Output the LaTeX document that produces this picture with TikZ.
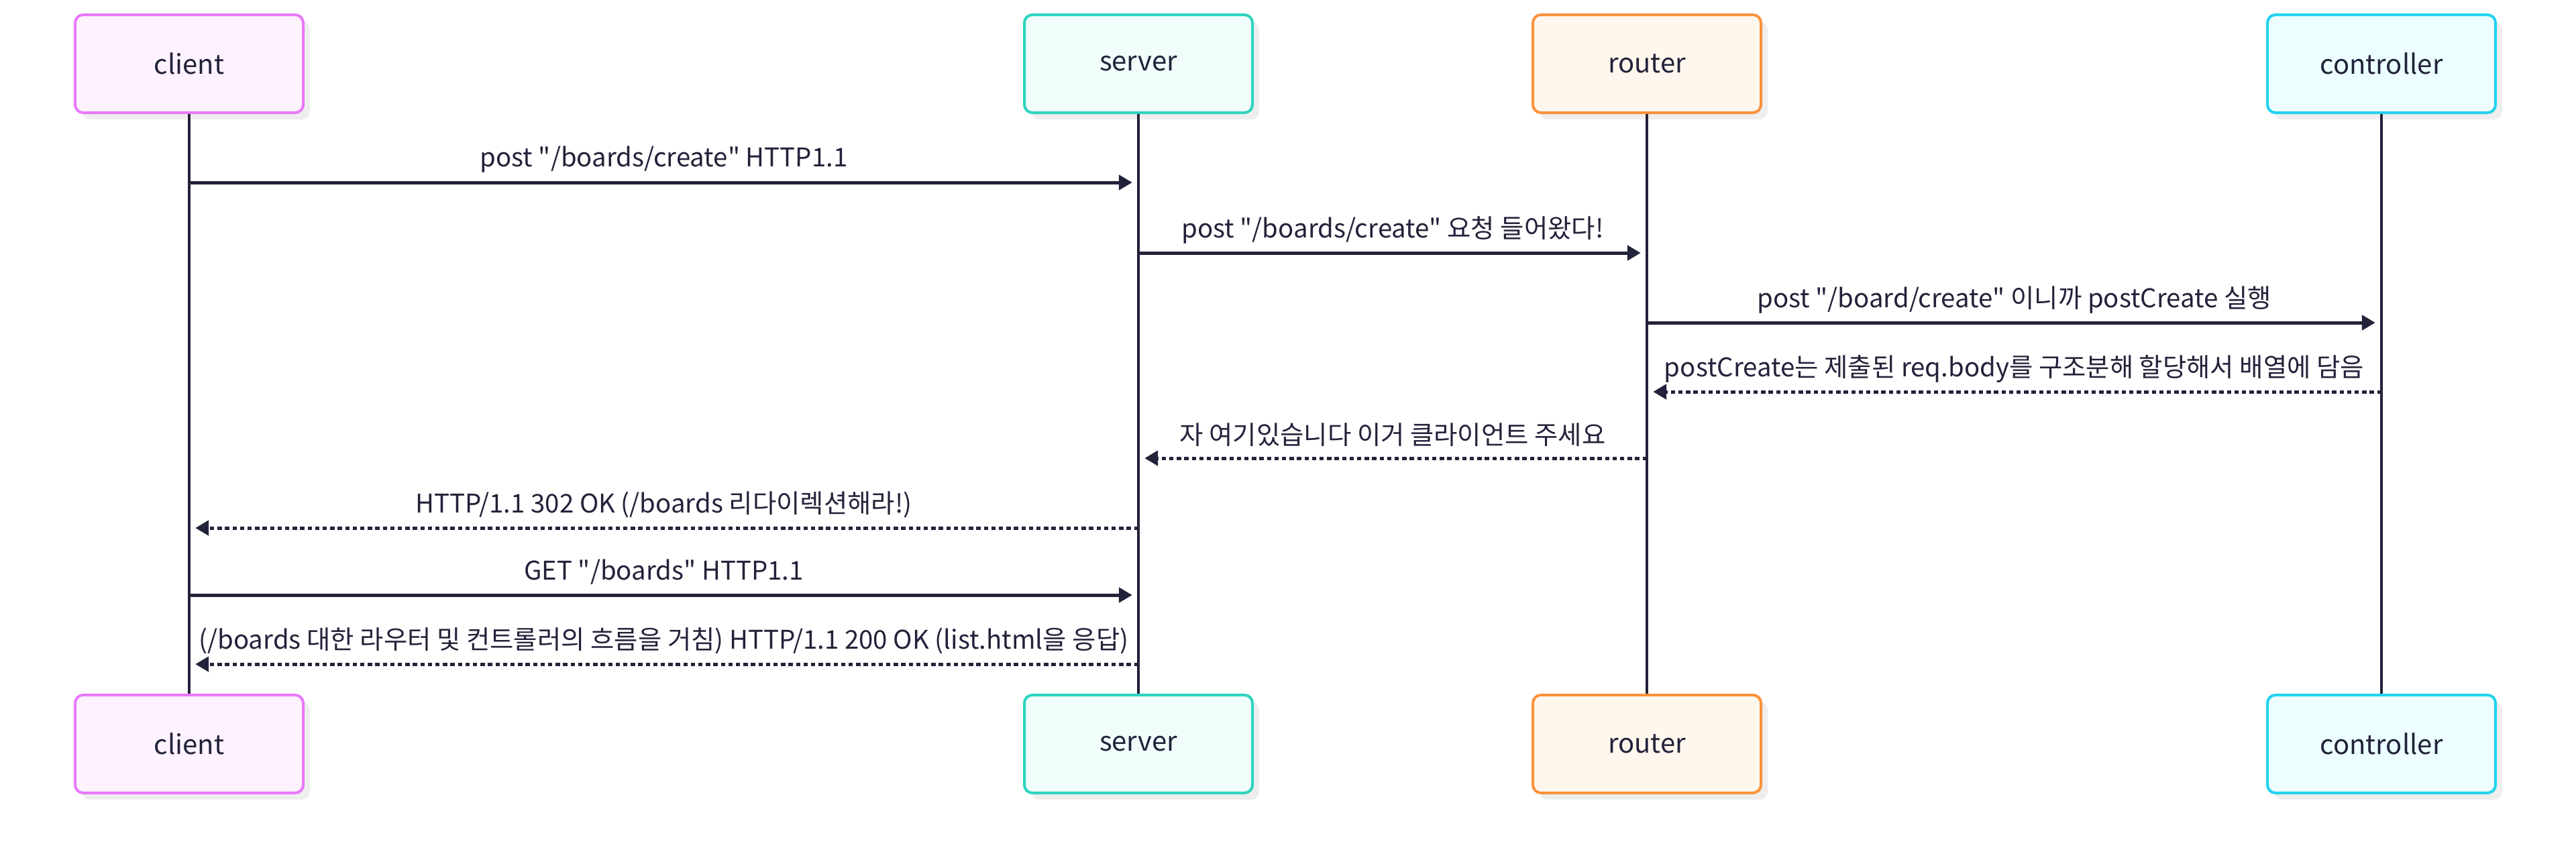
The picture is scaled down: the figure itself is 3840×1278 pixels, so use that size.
\documentclass[tikz,border=0pt]{standalone}
\usepackage{fontspec}
\newfontfamily\kr{Noto Sans CJK KR}
\usetikzlibrary{arrows.meta,shadows}
\definecolor{ink}{HTML}{22223A}
\definecolor{shade}{HTML}{EEEEEE}
\definecolor{clientB}{HTML}{E879F9}\definecolor{clientF}{HTML}{FDF2FE}
\definecolor{serverB}{HTML}{2DD4BF}\definecolor{serverF}{HTML}{F0FDFA}
\definecolor{routerB}{HTML}{FB923C}\definecolor{routerF}{HTML}{FFF7ED}
\definecolor{ctrlB}{HTML}{22D3EE}\definecolor{ctrlF}{HTML}{ECFEFF}
\begin{document}
\begin{tikzpicture}[x=0.25pt,y=-0.25pt,
  actor/.style={draw=#1B, fill=#1F, line width=1pt, rounded corners=3pt,
    minimum width=85pt, minimum height=36.5pt, inner sep=0pt, text=ink,
    font=\kr\fontsize{10}{12}\selectfont,
    drop shadow={shadow xshift=2.5pt, shadow yshift=-2.5pt, fill=shade, opacity=1}},
  lifeline/.style={draw=ink, line width=1pt},
  msg/.style={draw=ink, line width=1.25pt, -{Triangle[length=5pt,width=5.5pt]}, shorten >=2.3pt},
  reply/.style={msg, dash pattern=on 1.6pt off 1.2pt},
  lbl/.style={text=ink, inner sep=0pt, font=\kr\fontsize{9.6}{12}\selectfont, yshift=8.6pt}]
\useasboundingbox (0,0) rectangle (3840,1278);
% actors top
\node[actor=client] (cT) at (282,95) {client};
\node[actor=server] (sT) at (1697,95) {server};
\node[actor=router] (rT) at (2455,95) {router};
\node[actor=ctrl] (kT) at (3550,95) {controller};
% actors bottom
\node[actor=client] (cB) at (282,1109) {client};
\node[actor=server] (sB) at (1697,1109) {server};
\node[actor=router] (rB) at (2455,1109) {router};
\node[actor=ctrl] (kB) at (3550,1109) {controller};
% lifelines
\draw[lifeline] (cT) -- (cB);
\draw[lifeline] (sT) -- (sB);
\draw[lifeline] (rT) -- (rB);
\draw[lifeline] (kT) -- (kB);
% message rows
\coordinate (m1) at (0,272);
\coordinate (m2) at (0,377);
\coordinate (m3) at (0,481);
\coordinate (m4) at (0,584);
\coordinate (m5) at (0,683);
\coordinate (m6) at (0,787);
\coordinate (m7) at (0,887);
\coordinate (m8) at (0,990);
\draw[msg] (cT |- m1) -- (sT |- m1) node[lbl, midway] {post "/boards/create" HTTP1.1};
\draw[msg] (sT |- m2) -- (rT |- m2) node[lbl, midway] {post "/boards/create" 요청 들어왔다!};
\draw[msg] (rT |- m3) -- (kT |- m3) node[lbl, midway] {post "/board/create" 이니까 postCreate 실행};
\draw[reply] (kT |- m4) -- (rT |- m4) node[lbl, midway] {postCreate는 제출된 req.body를 구조분해 할당해서 배열에 담음};
\draw[reply] (rT |- m5) -- (sT |- m5) node[lbl, midway] {자 여기있습니다 이거 클라이언트 주세요};
\draw[reply] (sT |- m6) -- (cT |- m6) node[lbl, midway] {HTTP/1.1 302 OK (/boards 리다이렉션해라!)};
\draw[msg] (cT |- m7) -- (sT |- m7) node[lbl, midway] {GET "/boards" HTTP1.1};
\draw[reply] (sT |- m8) -- (cT |- m8) node[lbl, midway] {(/boards 대한 라우터 및 컨트롤러의 흐름을 거침) HTTP/1.1 200 OK (list.html을 응답)};
\end{tikzpicture}
\end{document}
